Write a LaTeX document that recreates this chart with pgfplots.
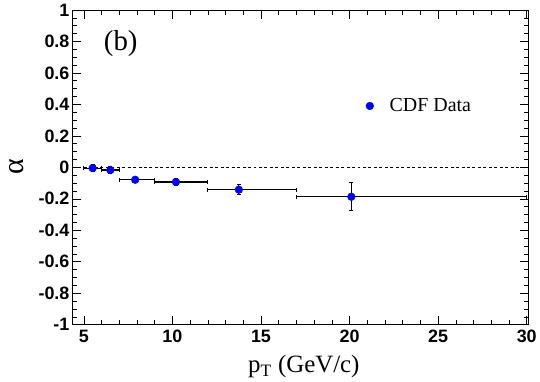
\documentclass[border=0pt]{standalone}
\usepackage{fontspec}
\setmainfont{Liberation Serif}
\setsansfont{Liberation Sans}
\usepackage{pgfplots}
\pgfplotsset{compat=1.18}
\usepackage{pgfplotstable}

\pgfplotstableread{
x     y       xm    xp    ey
5.5   -0.005  0.5   0.5   0.02
6.5   -0.017  0.5   0.5   0.02
7.9   -0.079  0.9   1.1   0.015
10.2  -0.093  1.2   1.8   0.02
13.75 -0.142  1.75  3.25  0.03
20.1  -0.187  3.1   9.9   0.09
}\cdfdata

\begin{document}
\begin{tikzpicture}
\begin{axis}[
  scale only axis,
  width=457bp, height=315bp,
  xmin=4.33, xmax=30.1,
  ymin=-1, ymax=1,
  xtick={5,10,...,30},
  xticklabels={5,10,15,20,25,30},
  minor x tick num=4,
  ytick={-1,-0.8,...,1.01},
  yticklabels={-1,-0.8,-0.6,-0.4,-0.2,0,0.2,0.4,0.6,0.8,1},
  minor y tick num=3,
  tick pos=both,
  tick align=inside,
  major tick length=9bp,
  minor tick length=5bp,
  axis line style={line width=0.8pt},
  every tick/.style={line width=0.6pt, black},
  tick label style={font=\fontsize{18}{20}\selectfont\sffamily\bfseries},
  yticklabel style={xshift=1bp},
  xticklabel style={yshift=-2bp},
  xlabel={p$_{\mathrm{T}}$ (GeV/c)},
  xlabel style={font=\fontsize{25}{28}\selectfont, at={(axis description cs:0.508,0)}, anchor=center, yshift=-42bp},
  ylabel={α},
  ylabel style={font=\fontsize{30}{32}\selectfont, inner sep=0pt, at={(axis description cs:-0.122,0.502)}, anchor=center},
  legend style={draw=none, fill=none, at={(rel axis cs:0.637,0.695)}, anchor=west,
    font=\fontsize{20}{22}\selectfont},
  legend cell align=left,
]
\addplot[black, line width=0.8pt, dash pattern=on 3pt off 2.5pt, forget plot] coordinates {(5,0) (30,0)};
\addplot[only marks, mark=*, mark size=3.9pt, color=blue,
  error bars/.cd, x dir=both, x explicit, y dir=both, y explicit,
  error bar style={black, line width=1.2pt},
  error mark options={black, line width=1pt, mark size=2pt, rotate=90}]
  table[x=x, y=y, x error plus=xp, x error minus=xm, y error=ey] {\cdfdata};
\addlegendentry{\hspace{14bp}CDF Data}
\node[font=\fontsize{29}{32}\selectfont] at (rel axis cs:0.107,0.892) {(b)};
\end{axis}
\path (current axis.south west) ++(-72bp,-56bp) coordinate (bl);
\path (current axis.north east) ++(11bp,10bp) coordinate (tr);
\path (bl) rectangle (tr);
\end{tikzpicture}
\end{document}
